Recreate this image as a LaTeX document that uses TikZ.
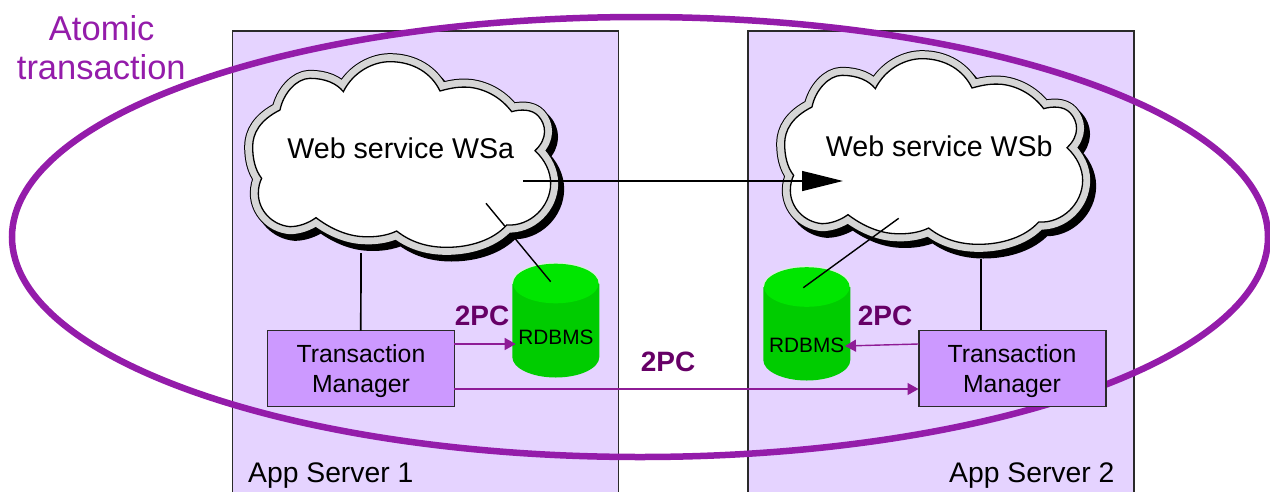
\documentclass[tikz,border=0pt]{standalone}
\usepackage{fontspec}
\setmainfont{Liberation Sans}
\usetikzlibrary{arrows.meta,shapes.geometric}
\definecolor{appfill}{HTML}{E5D3FF}
\definecolor{tmfill}{HTML}{CC99FF}
\definecolor{ringcol}{HTML}{941CAA}
\definecolor{pcline}{HTML}{8E1C96}
\definecolor{pctext}{HTML}{660066}
\definecolor{edgecol}{HTML}{2A2A2A}
\definecolor{drumtop}{HTML}{00E600}
\definecolor{drumbody}{HTML}{00CC00}
\definecolor{drumrim}{HTML}{D8F0D8}
\definecolor{band}{HTML}{D6D6D6}
\newcommand{\cloudshape}{(340,185) .. controls (370,125) and (430,95) .. (480,95)
 .. controls (550,95) and (605,130) .. (630,183)
 .. controls (670,172) and (690,170) .. (720,172)
 .. controls (770,178) and (815,205) .. (845,245)
 .. controls (870,238) and (905,236) .. (925,258)
 .. controls (948,283) and (955,325) .. (915,362)
 .. controls (945,390) and (962,425) .. (962,460)
 .. controls (962,530) and (900,590) .. (830,585)
 .. controls (790,630) and (720,652) .. (650,652)
 .. controls (590,652) and (540,635) .. (500,603)
 .. controls (470,618) and (430,622) .. (400,620)
 .. controls (350,618) and (300,595) .. (258,563)
 .. controls (235,580) and (205,590) .. (180,590)
 .. controls (125,585) and (85,540) .. (85,490)
 .. controls (85,470) and (90,455) .. (95,445)
 .. controls (75,420) and (68,385) .. (68,350)
 .. controls (68,310) and (90,270) .. (150,240)
 .. controls (160,190) and (200,145) .. (240,145)
 .. controls (285,145) and (320,160) .. (340,185) -- cycle}
\newcommand{\drawcloud}[2]{%
 \begin{scope}[shift={(#1,#2)},scale=1/3]
  \draw[black,fill=black,line width=17pt,line join=round,shift={(15,17)}] \cloudshape;
  \draw[black,line width=17pt,line join=round] \cloudshape;
  \draw[band,line width=15pt,line join=round] \cloudshape;
  \draw[black,fill=white,line width=1.3pt,line join=miter] \cloudshape;
 \end{scope}}
\newcommand{\drawdrum}[3]{% left x, top-ellipse centre y, bottom-ellipse centre y
 \fill[drumbody] (#1,#2) -- (#1+87,#2) -- (#1+87,#3) arc[start angle=0,end angle=180,x radius=43.5,y radius=20.5] -- cycle;
 \draw[drumrim,line width=1pt] (#1,#2) arc[start angle=180,end angle=360,x radius=43.5,y radius=20.5];
 \fill[drumtop] (#1+43.5,#2) ellipse[x radius=42.8,y radius=19.8];}
\tikzset{
 x=1pt,y=-1pt,
 appbox/.style={draw=edgecol,fill=appfill,line width=1.3pt,inner sep=0pt,outer sep=0pt},
 tmbox/.style={draw=edgecol,fill=tmfill,line width=1.5pt,minimum width=187pt,minimum height=75.6pt,inner sep=0pt,outer sep=0pt},
 tmtext/.style={font=\fontsize{24.8}{30}\selectfont,anchor=base,inner sep=0pt},
 wstext/.style={font=\fontsize{28.6}{30}\selectfont,anchor=base,inner sep=0pt},
 srvtext/.style={font=\fontsize{28.3}{30}\selectfont,anchor=base west,inner sep=0pt},
 dbtext/.style={font=\fontsize{20.8}{24}\selectfont,inner sep=0pt},
 pctag/.style={font=\fontsize{28}{30}\selectfont\bfseries,text=pctext,inner sep=0pt},
 pcarrow/.style={draw=pcline,line width=1.4pt,-{Triangle[length=11pt,width=12pt,fill=pcline]}},
 callarrow/.style={draw=black,line width=1.3pt,-{Triangle[length=41pt,width=20pt,fill=black]}},
 plainlink/.style={draw=black,line width=1.4pt},
 stemlink/.style={draw=black,line width=1.7pt},
 ring/.style={draw=ringcol,line width=6.5pt},
 atomtext/.style={font=\fontsize{34.5}{38}\selectfont,text=ringcol,anchor=base,inner sep=0pt}
}
\begin{document}
\begin{tikzpicture}
\useasboundingbox (0,0) rectangle (1270,491);
\clip (0,0) rectangle (1270,491);
% application server panels
\node[appbox,minimum width=386pt,minimum height=480pt,anchor=north west] (app1) at (232.5,31) {};
\node[appbox,minimum width=386pt,minimum height=480pt,anchor=north west] (app2) at (748,31) {};
% atomic transaction ring
\node[ring,ellipse,minimum width=1256pt,minimum height=440pt,inner sep=0pt,outer sep=0pt] (atom) at (640,237) {};
\node[atomtext] (atomA) at (101.7,40.7) {Atomic};
\node[atomtext] (atomB) at (101.3,79.3) {transaction};
% clouds
\drawcloud{230}{30}
\drawcloud{762}{27}
\node[wstext] (wsa) at (400.8,158.3) {Web service WSa};
\node[wstext] (wsb) at (939.3,156.7) {Web service WSb};
% databases
\drawdrum{512.3}{283.5}{357}
\drawdrum{763.3}{287}{360}
\node[dbtext] (dba) at (556,337) {RDBMS};
\node[dbtext] (dbb) at (806.7,345.7) {RDBMS};
% transaction managers
\node[tmbox] (tma) at (360.8,368.5) {};
\node[tmbox] (tmb) at (1012.4,368.5) {};
\node[tmtext] (tma1) at (361,362.7) {Transaction};
\node[tmtext] (tma2) at (361,392.7) {Manager};
\node[tmtext] (tmb1) at (1012,362.7) {Transaction};
\node[tmtext] (tmb2) at (1012,392.7) {Manager};
% named free ends
\coordinate (callfrom) at (523,181);
\coordinate (callto) at (843,181);
\coordinate (wsaDb) at (486,203.3);
\coordinate (wsaDbIn) at (505,226.3);
\coordinate (wsaDbOut) at (513.3,236.4);
\coordinate (dbaEnd) at (550.7,281.7);
\coordinate (wsbDb) at (898.7,218.3);
\coordinate (dbbEnd) at (803.3,287.7);
\coordinate (wsaTm) at (361,253);
\coordinate (wsbTm) at (981,259);
\coordinate (tmbTop) at (981,330);
\coordinate (a1s) at (454.3,344);
\coordinate (a1e) at (515.7,344);
\coordinate (a2s) at (918.5,344);
\coordinate (a2e) at (845,346);
\coordinate (a3s) at (454.3,389);
\coordinate (a3e) at (918.5,389);
% connectors
\draw[callarrow] (callfrom) -- (callto);
\draw[plainlink] (wsaDb) -- (wsaDbIn);
\draw[plainlink] (wsaDbOut) -- (dbaEnd);
\draw[plainlink] (wsbDb) -- (dbbEnd);
\draw[stemlink] (wsaTm) -- (tma.north);
\draw[stemlink] (wsbTm) -- (tmbTop);
\draw[pcarrow] (a1s) -- (a1e);
\draw[pcarrow] (a2s) -- (a2e);
\draw[pcarrow] (a3s) -- (a3e);
% labels
\node[pctag] (pc1) at (482,316) {2PC};
\node[pctag] (pc2) at (885,316) {2PC};
\node[pctag] (pc3) at (668,362) {2PC};
% server captions
\node[srvtext] (srv1) at (248,482.7) {App Server 1};
\node[srvtext] (srv2) at (949,482.7) {App Server 2};
\end{tikzpicture}
\end{document}
